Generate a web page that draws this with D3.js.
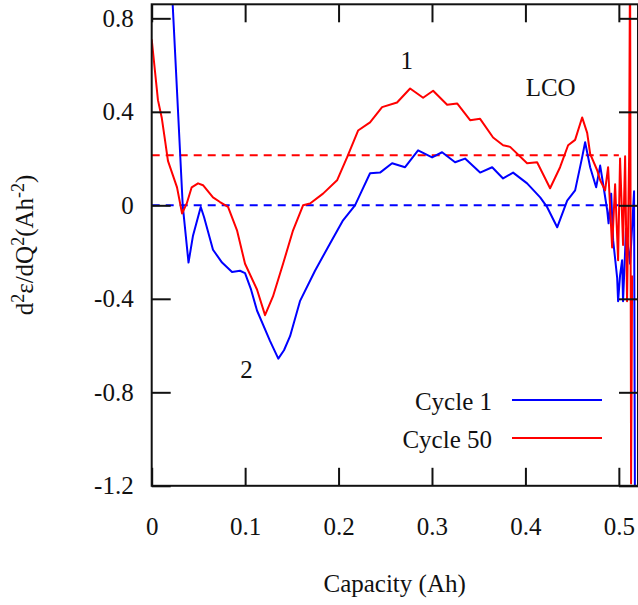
<!DOCTYPE html>
<html>
<head>
<meta charset="utf-8">
<script src="https://cdn.jsdelivr.net/npm/d3@7"></script>
<style>
  body { margin: 0; background: #fff; }
  text { font-family: "Liberation Serif", "DejaVu Serif", serif; fill: #111; }
</style>
</head>
<body>
<div id="chart"></div>
<script>
// Data
const cycle1X = [0.0207, 0.0332, 0.0394, 0.0442, 0.0525, 0.0560, 0.0656, 0.0753, 0.0860, 0.0945,
  0.0999, 0.1063, 0.1127, 0.1266, 0.1355, 0.1416, 0.1481, 0.1587, 0.1748, 0.1909,
  0.2048, 0.2176, 0.2251, 0.2337, 0.2444, 0.2573, 0.2712, 0.2851, 0.3001, 0.3108,
  0.3247, 0.3354, 0.3515, 0.3644, 0.3761, 0.3868, 0.4018, 0.4158, 0.4233, 0.4340,
  0.4447, 0.4532, 0.4607, 0.4639, 0.4693, 0.4725, 0.4757, 0.4800, 0.4832, 0.4875,
  0.4890, 0.4918, 0.4939, 0.4982, 0.4992, 0.5013, 0.5035, 0.5045, 0.5077, 0.5120,
  0.5163, 0.5173];
const cycle1Y = [1.0, 0.0, -0.245, -0.13, -0.007, -0.05, -0.19, -0.245, -0.285, -0.28,
  -0.29, -0.36, -0.45, -0.58, -0.656, -0.62, -0.56, -0.41, -0.28, -0.163,
  -0.064, 0.0, 0.064, 0.137, 0.14, 0.18, 0.163, 0.235, 0.205, 0.227,
  0.184, 0.2, 0.14, 0.163, 0.115, 0.14, 0.094, 0.034, -0.008, -0.094,
  0.02, 0.064, 0.205, 0.27, 0.163, 0.12, 0.077, 0.17, 0.09, -0.02,
  -0.077, 0.05, -0.15, -0.31, -0.41, -0.3, -0.235, -0.41, -0.1, -0.25,
  0.06, -1.4];

const cycle50X = [0, 0.0067, 0.0107, 0.0142, 0.0174, 0.0271, 0.0325, 0.0375, 0.0428, 0.0496,
  0.0549, 0.0656, 0.0731, 0.0817, 0.0913, 0.0999, 0.1127, 0.1213, 0.1298, 0.1406,
  0.1513, 0.1620, 0.1695, 0.1834, 0.1984, 0.2091, 0.2209, 0.2337, 0.2466, 0.2626,
  0.2766, 0.2905, 0.3012, 0.3162, 0.3269, 0.3408, 0.3515, 0.3654, 0.3761, 0.3836,
  0.4018, 0.4125, 0.4264, 0.4371, 0.4457, 0.4532, 0.4607, 0.4661, 0.4693, 0.4768,
  0.4800, 0.4853, 0.4885, 0.4928, 0.4960, 0.4992, 0.5013, 0.5045, 0.5067, 0.5088,
  0.5110, 0.5120, 0.5131, 0.5142];
const cycle50Y = [0.71, 0.45, 0.376, 0.28, 0.19, 0.077, -0.035, 0.008, 0.077, 0.094,
  0.086, 0.034, 0.014, -0.007, -0.107, -0.25, -0.36, -0.47, -0.39, -0.25,
  -0.107, 0.0, 0.008, 0.05, 0.107, 0.205, 0.32, 0.355, 0.42, 0.44,
  0.5, 0.46, 0.49, 0.43, 0.436, 0.364, 0.37, 0.29, 0.257, 0.25,
  0.18, 0.184, 0.073, 0.163, 0.257, 0.28, 0.376, 0.31, 0.22, 0.15,
  0.107, 0.064, 0.163, -0.18, 0.09, -0.235, 0.2, -0.17, 0.21, -0.41,
  0.21, 1.1, -1.19, -0.3];

// Reference (dashed) levels
const refLevels = [0, 0.214];
const seriesNames = ["Cycle 1", "Cycle 50"];
const seriesColors = ["#0000ff", "#ff0000"];

const xTicks = [0, 0.1, 0.2, 0.3, 0.4, 0.5];
const xTickLabels = ["0", "0.1", "0.2", "0.3", "0.4", "0.5"];
const yTicks = [-1.2, -0.8, -0.4, 0, 0.4, 0.8];
const yTickLabels = ["-1.2", "-0.8", "-0.4", "0", "0.4", "0.8"];

const notes = [
  { text: "1", x: 0.273, y: 0.62 },
  { text: "2", x: 0.1015, y: -0.70 },
  { text: "LCO", x: 0.427, y: 0.505 }
];

// SVG parameters
const svgWidth = 638;
const svgHeight = 605;
const plotL = 151.7, plotR = 638, plotT = 4.3, plotB = 485.8;
const fontSize = 25;

const svg = d3.select("#chart")
  .append("svg")
  .attr("width", svgWidth)
  .attr("height", svgHeight);

// Scales
const x = d3.scaleLinear().domain([0, 0.5205]).range([plotL, plotR]);
const y = d3.scaleLinear().domain([-1.2, 0.86]).range([plotB, plotT]);

svg.append("clipPath").attr("id", "plot")
  .append("rect")
  .attr("x", plotL).attr("y", plotT)
  .attr("width", plotR - plotL).attr("height", plotB - plotT);

const plot = svg.append("g").attr("clip-path", "url(#plot)");

// Dashed reference lines
plot.selectAll(".ref")
  .data(refLevels)
  .join("line")
  .attr("x1", x(0)).attr("x2", x(0.5))
  .attr("y1", d => y(d)).attr("y2", d => y(d))
  .attr("stroke", (d, i) => seriesColors[i])
  .attr("stroke-width", 2)
  .attr("stroke-dasharray", "8,6");

// Curves
const line = d3.line()
  .x(d => x(d[0]))
  .y(d => y(d[1]));

const series = [
  d3.zip(cycle1X, cycle1Y),
  d3.zip(cycle50X, cycle50Y)
];

plot.selectAll(".curve")
  .data(series)
  .join("path")
  .attr("class", "curve")
  .attr("d", line)
  .attr("fill", "none")
  .attr("stroke", (d, i) => seriesColors[i])
  .attr("stroke-width", 2)
  .attr("stroke-linejoin", "round");

// Axes, ticks pointing inward on all four sides
const fmtX = d => xTickLabels[xTicks.indexOf(d)];
const fmtY = d => yTickLabels[yTicks.indexOf(d)];

const axisStyle = g => {
  g.select(".domain").remove();
  g.selectAll(".tick line").attr("stroke", "#111").attr("stroke-width", 2);
  g.selectAll("text").attr("font-size", fontSize)
    .attr("font-family", "Liberation Serif, DejaVu Serif, serif").attr("fill", "#111");
};

svg.append("g")
  .attr("transform", `translate(0,${plotB})`)
  .call(d3.axisBottom(x).tickValues(xTicks).tickFormat(fmtX).tickSize(-18).tickPadding(31))
  .call(axisStyle);

svg.append("g")
  .attr("transform", `translate(0,${plotT})`)
  .call(d3.axisTop(x).tickValues(xTicks).tickFormat("").tickSize(-18))
  .call(axisStyle);

svg.append("g")
  .attr("transform", `translate(${plotL},0)`)
  .call(d3.axisLeft(y).tickValues(yTicks).tickFormat(fmtY).tickSize(-19).tickPadding(18))
  .call(axisStyle);

svg.append("g")
  .attr("transform", `translate(${plotR},0)`)
  .call(d3.axisRight(y).tickValues(yTicks).tickFormat("").tickSize(-19))
  .call(axisStyle);

// Frame
svg.append("rect")
  .attr("x", plotL).attr("y", plotT)
  .attr("width", plotR - plotL).attr("height", plotB - plotT)
  .attr("fill", "none")
  .attr("stroke", "#111")
  .attr("stroke-width", 2);

// Legend
const legend = svg.append("g");
seriesNames.forEach((name, i) => {
  const ly = 401 + i * 38;
  legend.append("text")
    .attr("x", 492).attr("y", ly)
    .attr("dy", "0.35em")
    .attr("text-anchor", "end")
    .attr("font-size", fontSize)
    .text(name);
  legend.append("line")
    .attr("x1", 512).attr("x2", 602)
    .attr("y1", ly - 1).attr("y2", ly - 1)
    .attr("stroke", seriesColors[i])
    .attr("stroke-width", 2);
});

// Annotations
svg.selectAll(".note")
  .data(notes)
  .join("text")
  .attr("x", d => x(d.x))
  .attr("y", d => y(d.y))
  .attr("dy", "0.35em")
  .attr("text-anchor", "middle")
  .attr("font-size", fontSize)
  .text(d => d.text);

// Axis titles
svg.append("text")
  .attr("x", x(0.26)).attr("y", 583)
  .attr("dy", "0.35em")
  .attr("text-anchor", "middle")
  .attr("font-size", fontSize)
  .text("Capacity (Ah)");

const yTitle = svg.append("text")
  .attr("transform", "translate(33,245) rotate(-90)")
  .attr("text-anchor", "middle")
  .attr("font-size", fontSize);
yTitle.append("tspan").text("d");
yTitle.append("tspan").attr("dy", -9).attr("font-size", 18).text("2");
yTitle.append("tspan").attr("dy", 9).text("ε/dQ");
yTitle.append("tspan").attr("dy", -9).attr("font-size", 18).text("2");
yTitle.append("tspan").attr("dy", 9).text("(Ah");
yTitle.append("tspan").attr("dy", -9).attr("font-size", 18).text("-2");
yTitle.append("tspan").attr("dy", 9).text(")");
</script>
</body>
</html>
